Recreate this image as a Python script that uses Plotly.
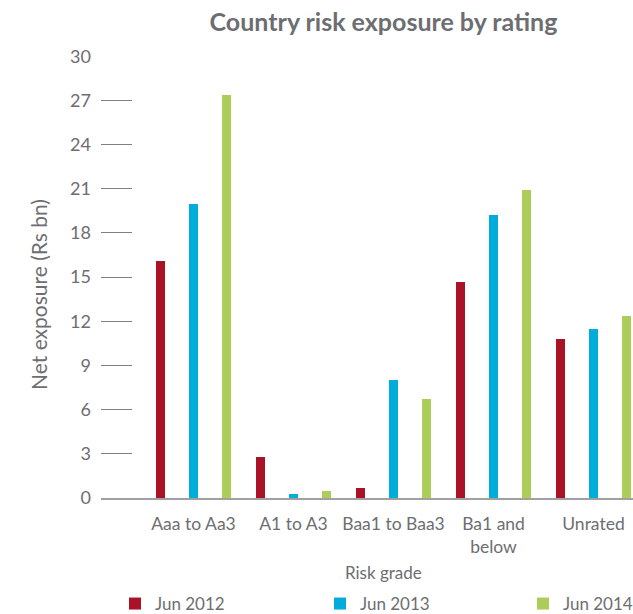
import plotly.graph_objects as go

categories = ["Aaa to Aa3", "A1 to A3", "Baa1 to Baa3", "Ba1 and<br>below", "Unrated"]
series_names = ["Jun 2012", "Jun 2013", "Jun 2014"]
jun_2012 = [16.1, 2.8, 0.65, 14.7, 10.8]
jun_2013 = [20.0, 0.25, 8.0, 19.2, 11.5]
jun_2014 = [27.4, 0.5, 6.7, 20.9, 12.35]
y_ticks = [0, 3, 6, 9, 12, 15, 18, 21, 24, 27, 30]

colors = ["#AA1228", "#00ADDA", "#ADCD5A"]
text_color = "#6D6E71"
font_family = "Lato, 'Open Sans', sans-serif"

W, H = 633, 614
L, R, T, B = 101, 0, 56, 116
PW, PH = W - L - R, H - T - B


def px_x(p):
    return (p - L) / PW


def px_y(p):
    return (H - B - p) / PH


legend_names = ["legend", "legend2", "legend3"]
legend_text_x = [155, 360, 563]

fig = go.Figure()
for name, vals, col, lg in zip(series_names, [jun_2012, jun_2013, jun_2014], colors, legend_names):
    fig.add_trace(go.Bar(
        x=list(range(len(categories))), y=vals, name=name,
        marker=dict(color=col, line=dict(width=0)),
        width=0.09, legend=lg, showlegend=True,
    ))

layout_legends = {}
for lg, tx in zip(legend_names, legend_text_x):
    layout_legends[lg] = dict(
        orientation="h", x=px_x(tx - 40), xanchor="left", y=px_y(604), yanchor="middle",
        font=dict(size=17, color=text_color, family=font_family),
        bgcolor="rgba(0,0,0,0)", borderwidth=0, itemwidth=30,
    )

fig.update_layout(
    width=W, height=H,
    margin=dict(l=L, r=R, t=T, b=B, autoexpand=False),
    paper_bgcolor="white", plot_bgcolor="white",
    barmode="group", bargap=0.0, bargroupgap=0.0,
    font=dict(family=font_family, color=text_color, size=18),
    title=dict(text="<b>Country risk exposure by rating</b>", x=383.5 / W, xanchor="center",
               y=1 - 22 / H, yanchor="middle",
               font=dict(size=25, color=text_color, family=font_family)),
    showlegend=True,
    **layout_legends,
)
fig.update_xaxes(
    range=[-0.925, 4.395], tickmode="array", tickvals=list(range(len(categories))),
    ticktext=categories, showgrid=False, zeroline=False, automargin=False,
    showline=True, linecolor="#A0A0A0", linewidth=2, ticks="",
    tickfont=dict(size=17.5, color=text_color), ticklabelstandoff=9,
)
fig.update_yaxes(
    range=[0, 30.02], tickmode="array", tickvals=y_ticks, ticktext=[str(v) for v in y_ticks],
    showgrid=False, zeroline=False, showline=False, automargin=False,
    ticks="inside", ticklen=31, tickcolor="#808080", tickwidth=1,
    tickfont=dict(size=18, color=text_color), ticklabelstandoff=9,
)
fig.add_annotation(text="Net exposure (Rs bn)", textangle=-90, xref="paper", yref="paper",
                   x=px_x(38), y=px_y(295), xanchor="center", yanchor="middle",
                   showarrow=False, font=dict(size=21, color=text_color))
fig.add_annotation(text="Risk grade", xref="paper", yref="paper",
                   x=px_x(383), y=px_y(572), xanchor="center", yanchor="middle",
                   showarrow=False, font=dict(size=17, color=text_color))
fig.write_html("out.html")
